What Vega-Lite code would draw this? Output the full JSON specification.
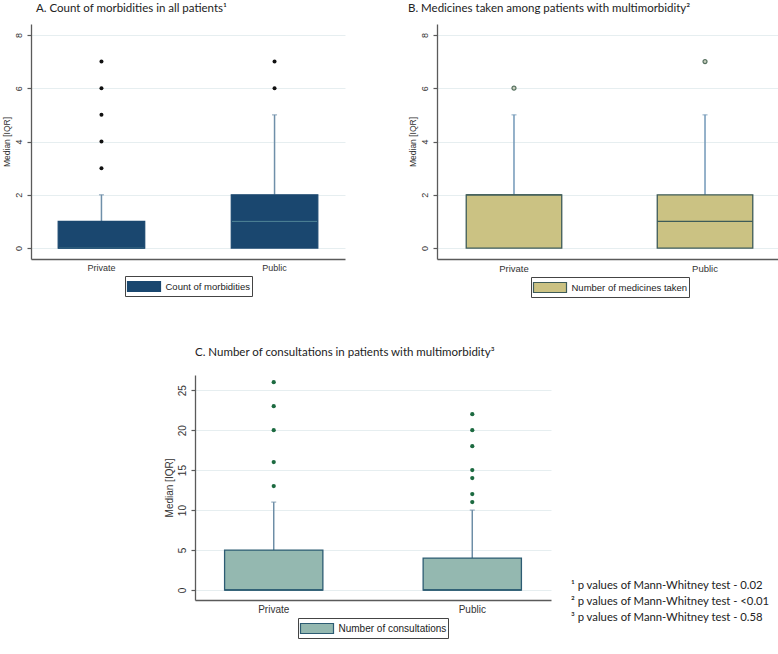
{
  "$schema": "https://vega.github.io/schema/vega-lite/v6.json",
  "padding": {"left": 2, "top": 2, "right": 2, "bottom": 2},
  "background": "white",
  "datasets": {
    "box": [
      {"panel": "A", "group": "Private", "measure": "Count of morbidities", "q1": 0, "median": 0, "q3": 1, "upper": 2},
      {"panel": "A", "group": "Public", "measure": "Count of morbidities", "q1": 0, "median": 1, "q3": 2, "upper": 5},
      {"panel": "B", "group": "Private", "measure": "Number of medicines taken", "q1": 0, "median": 2, "q3": 2, "upper": 5},
      {"panel": "B", "group": "Public", "measure": "Number of medicines taken", "q1": 0, "median": 1, "q3": 2, "upper": 5},
      {"panel": "C", "group": "Private", "measure": "Number of consultations", "q1": 0, "median": 0, "q3": 5, "upper": 11},
      {"panel": "C", "group": "Public", "measure": "Number of consultations", "q1": 0, "median": 0, "q3": 4, "upper": 10}
    ],
    "out": [
      {"panel": "A", "group": "Private", "value": 3},
      {"panel": "A", "group": "Private", "value": 4},
      {"panel": "A", "group": "Private", "value": 5},
      {"panel": "A", "group": "Private", "value": 6},
      {"panel": "A", "group": "Private", "value": 7},
      {"panel": "A", "group": "Public", "value": 6},
      {"panel": "A", "group": "Public", "value": 7},
      {"panel": "B", "group": "Private", "value": 6},
      {"panel": "B", "group": "Public", "value": 7},
      {"panel": "C", "group": "Private", "value": 13},
      {"panel": "C", "group": "Private", "value": 16},
      {"panel": "C", "group": "Private", "value": 20},
      {"panel": "C", "group": "Private", "value": 23},
      {"panel": "C", "group": "Private", "value": 26},
      {"panel": "C", "group": "Public", "value": 11},
      {"panel": "C", "group": "Public", "value": 12},
      {"panel": "C", "group": "Public", "value": 14},
      {"panel": "C", "group": "Public", "value": 15},
      {"panel": "C", "group": "Public", "value": 18},
      {"panel": "C", "group": "Public", "value": 20},
      {"panel": "C", "group": "Public", "value": 22}
    ],
    "notes": [
      {"line": 1, "text": "¹ p values of Mann-Whitney test - 0.02"},
      {"line": 2, "text": "² p values of Mann-Whitney test - <0.01"},
      {"line": 3, "text": "³ p values of Mann-Whitney test - 0.58"}
    ]
  },
  "resolve": {"scale": {"x": "independent", "y": "independent", "color": "independent"}, "legend": {"color": "independent"}},
  "spacing": 48,
  "vconcat": [
    {
      "resolve": {"scale": {"x": "independent", "y": "independent", "color": "independent"}, "legend": {"color": "independent"}},
      "spacing": 63,
      "hconcat": [
        {
          "width": 314,
          "height": 235,
          "title": {"text": "A. Count of morbidities in all patients¹", "frame": "group", "dx": 5},
          "encoding": {
            "x": {"field": "group", "type": "nominal", "title": null, "scale": {"type": "band", "paddingInner": 0.5, "paddingOuter": 0.157}, "axis": {"labelFontSize": 9}}
          },
          "layer": [
            {
              "data": {"name": "box"},
              "transform": [{"filter": "datum.panel === 'A'"}],
              "mark": {"type": "bar", "strokeWidth": 0},
              "encoding": {
                "y": {"field": "q1", "type": "quantitative", "title": "Median [IQR]", "scale": {"domain": [-0.41, 8.41], "nice": false, "zero": false}, "axis": {"values": [0, 2, 4, 6, 8], "labelFontSize": 9, "titleFontSize": 8.5}},
                "y2": {"field": "q3"},
                "color": {"field": "measure", "type": "nominal", "scale": {"range": ["#1a476f"]}, "legend": {"symbolStrokeColor": "#1a476f"}}
              }
            },
            {
              "data": {"name": "box"},
              "transform": [{"filter": "datum.panel === 'A'"}],
              "mark": {"type": "rule", "color": "#6f8fa9", "strokeWidth": 1.5},
              "encoding": {"y": {"field": "q3", "type": "quantitative", "title": "Median [IQR]"}, "y2": {"field": "upper"}}
            },
            {
              "data": {"name": "box"},
              "transform": [{"filter": "datum.panel === 'A'"}],
              "mark": {"type": "tick", "color": "#6f8fa9", "size": 5, "thickness": 1.2},
              "encoding": {"y": {"field": "upper", "type": "quantitative", "title": "Median [IQR]"}}
            },
            {
              "data": {"name": "box"},
              "transform": [{"filter": "datum.panel === 'A'"}],
              "mark": {"type": "bar", "fillOpacity": 0, "stroke": "#4a7e92", "strokeWidth": 1},
              "encoding": {"y": {"field": "median", "type": "quantitative", "title": "Median [IQR]"}, "y2": {"field": "median"}}
            },
            {
              "data": {"name": "box"},
              "transform": [{"filter": "datum.panel === 'A'"}],
              "mark": {"type": "bar", "fillOpacity": 0, "stroke": "#1a476f", "strokeWidth": 1.2},
              "encoding": {"y": {"field": "q1", "type": "quantitative", "title": "Median [IQR]"}, "y2": {"field": "q3"}}
            },
            {
              "data": {"name": "out"},
              "transform": [{"filter": "datum.panel === 'A'"}],
              "mark": {"type": "point", "filled": true, "color": "#111111", "size": 16, "opacity": 1},
              "encoding": {"y": {"field": "value", "type": "quantitative", "title": "Median [IQR]"}}
            }
          ]
        },
        {
          "width": 345,
          "height": 235,
          "title": {"text": "B. Medicines taken among patients with multimorbidity²", "frame": "bounds"},
          "encoding": {
            "x": {"field": "group", "type": "nominal", "title": null, "scale": {"type": "band", "paddingInner": 0.5, "paddingOuter": 0.153}, "axis": {"labelFontSize": 9.5}}
          },
          "layer": [
            {
              "data": {"name": "box"},
              "transform": [{"filter": "datum.panel === 'B'"}],
              "mark": {"type": "bar", "strokeWidth": 0},
              "encoding": {
                "y": {"field": "q1", "type": "quantitative", "title": "Median [IQR]", "scale": {"domain": [-0.41, 8.41], "nice": false, "zero": false}, "axis": {"values": [0, 2, 4, 6, 8], "labelFontSize": 9, "titleFontSize": 8.5}},
                "y2": {"field": "q3"},
                "color": {"field": "measure", "type": "nominal", "scale": {"range": ["#cbc283"]}, "legend": {"symbolStrokeColor": "#3e5b58"}}
              }
            },
            {
              "data": {"name": "box"},
              "transform": [{"filter": "datum.panel === 'B'"}],
              "mark": {"type": "rule", "color": "#7298b8", "strokeWidth": 1.5},
              "encoding": {"y": {"field": "q3", "type": "quantitative", "title": "Median [IQR]"}, "y2": {"field": "upper"}}
            },
            {
              "data": {"name": "box"},
              "transform": [{"filter": "datum.panel === 'B'"}],
              "mark": {"type": "tick", "color": "#7298b8", "size": 5, "thickness": 1.2},
              "encoding": {"y": {"field": "upper", "type": "quantitative", "title": "Median [IQR]"}}
            },
            {
              "data": {"name": "box"},
              "transform": [{"filter": "datum.panel === 'B'"}],
              "mark": {"type": "bar", "fillOpacity": 0, "stroke": "#3e5b58", "strokeWidth": 1.3},
              "encoding": {"y": {"field": "median", "type": "quantitative", "title": "Median [IQR]"}, "y2": {"field": "median"}}
            },
            {
              "data": {"name": "box"},
              "transform": [{"filter": "datum.panel === 'B'"}],
              "mark": {"type": "bar", "fillOpacity": 0, "stroke": "#3e5b58", "strokeWidth": 1.3},
              "encoding": {"y": {"field": "q1", "type": "quantitative", "title": "Median [IQR]"}, "y2": {"field": "q3"}}
            },
            {
              "data": {"name": "out"},
              "transform": [{"filter": "datum.panel === 'B'"}],
              "mark": {"type": "point", "filled": false, "stroke": "#55705f", "fill": "#c9cfbd", "strokeWidth": 1.2, "size": 16, "opacity": 1},
              "encoding": {"y": {"field": "value", "type": "quantitative", "title": "Median [IQR]"}}
            }
          ]
        }
      ]
    },
    {
      "resolve": {"scale": {"x": "independent", "y": "independent", "color": "independent"}, "legend": {"color": "independent"}},
      "spacing": 20,
      "hconcat": [
        {
          "width": 113,
          "height": 10,
          "data": {"values": [{}]},
          "mark": {"type": "point", "opacity": 0}
        },
        {
          "width": 356,
          "height": 225,
          "title": {"text": "C. Number  of consultations in patients with multimorbidity³", "frame": "group", "offset": 17},
          "encoding": {
            "x": {"field": "group", "type": "nominal", "title": null, "scale": {"type": "band", "paddingInner": 0.505, "paddingOuter": 0.149}, "axis": {"labelFontSize": 10}}
          },
          "layer": [
            {
              "data": {"name": "box"},
              "transform": [{"filter": "datum.panel === 'C'"}],
              "mark": {"type": "bar", "strokeWidth": 0},
              "encoding": {
                "y": {"field": "q1", "type": "quantitative", "title": "Median [IQR]", "scale": {"domain": [-1.25, 26.9], "nice": false, "zero": false}, "axis": {"values": [0, 5, 10, 15, 20, 25], "labelFontSize": 10, "titleFontSize": 10}},
                "y2": {"field": "q3"},
                "color": {"field": "measure", "type": "nominal", "scale": {"range": ["#94b8b0"]}, "legend": {"symbolStrokeColor": "#2d5c73", "labelFontSize": 10}}
              }
            },
            {
              "data": {"name": "box"},
              "transform": [{"filter": "datum.panel === 'C'"}],
              "mark": {"type": "rule", "color": "#6d8da6", "strokeWidth": 1.5},
              "encoding": {"y": {"field": "q3", "type": "quantitative", "title": "Median [IQR]"}, "y2": {"field": "upper"}}
            },
            {
              "data": {"name": "box"},
              "transform": [{"filter": "datum.panel === 'C'"}],
              "mark": {"type": "tick", "color": "#6d8da6", "size": 5, "thickness": 1.2},
              "encoding": {"y": {"field": "upper", "type": "quantitative", "title": "Median [IQR]"}}
            },
            {
              "data": {"name": "box"},
              "transform": [{"filter": "datum.panel === 'C'"}],
              "mark": {"type": "bar", "fillOpacity": 0, "stroke": "#2d5c73", "strokeWidth": 1.3},
              "encoding": {"y": {"field": "median", "type": "quantitative", "title": "Median [IQR]"}, "y2": {"field": "median"}}
            },
            {
              "data": {"name": "box"},
              "transform": [{"filter": "datum.panel === 'C'"}],
              "mark": {"type": "bar", "fillOpacity": 0, "stroke": "#2d5c73", "strokeWidth": 1.3},
              "encoding": {"y": {"field": "q1", "type": "quantitative", "title": "Median [IQR]"}, "y2": {"field": "q3"}}
            },
            {
              "data": {"name": "out"},
              "transform": [{"filter": "datum.panel === 'C'"}],
              "mark": {"type": "point", "filled": true, "color": "#1c6a40", "size": 18, "opacity": 1},
              "encoding": {"y": {"field": "value", "type": "quantitative", "title": "Median [IQR]"}}
            }
          ]
        },
        {
          "width": 200,
          "height": 250,
          "data": {"name": "notes"},
          "mark": {"type": "text", "align": "left", "baseline": "middle", "font": "Lato", "fontSize": 11.3, "color": "#222222"},
          "encoding": {
            "x": {"datum": 0, "type": "quantitative", "scale": {"domain": [0, 1], "nice": false}, "axis": null},
            "y": {"field": "line", "type": "quantitative", "scale": {"domain": [-12.19, 3.435], "reverse": true, "nice": false, "zero": false}, "axis": null},
            "text": {"field": "text", "type": "nominal"}
          }
        }
      ]
    }
  ],
  "config": {
    "view": {"stroke": null},
    "font": "Liberation Sans",
    "title": {"font": "Lato", "fontSize": 11.5, "fontWeight": "normal", "anchor": "start", "color": "#222222", "offset": 10},
    "axis": {"domainColor": "#5a5a5a", "domainWidth": 1.3, "tickColor": "#5a5a5a", "tickWidth": 1.2, "tickSize": 4, "labelFont": "Liberation Sans", "labelColor": "#333333", "titleFont": "Liberation Sans", "titleFontWeight": "normal", "titleColor": "#333333", "gridColor": "#e6eef0", "gridWidth": 1},
    "axisX": {"ticks": false, "grid": false, "labelAngle": 0, "labelPadding": 4},
    "axisY": {"labelAngle": -90, "labelAlign": "center", "labelBaseline": "bottom", "labelPadding": 4, "titlePadding": 3, "grid": true},
    "legend": {"orient": "bottom", "title": null, "strokeColor": "#444444", "fillColor": "white", "padding": 1.5, "offset": 4, "symbolType": "M-1,-0.625H3.125V0.625H-1Z", "symbolSize": 256, "symbolStrokeWidth": 1.2, "symbolOpacity": 1, "labelOffset": 21, "labelFont": "Liberation Sans", "labelFontSize": 9.5, "labelColor": "#222222", "layout": {"bottom": {"anchor": "middle"}}}
  }
}
